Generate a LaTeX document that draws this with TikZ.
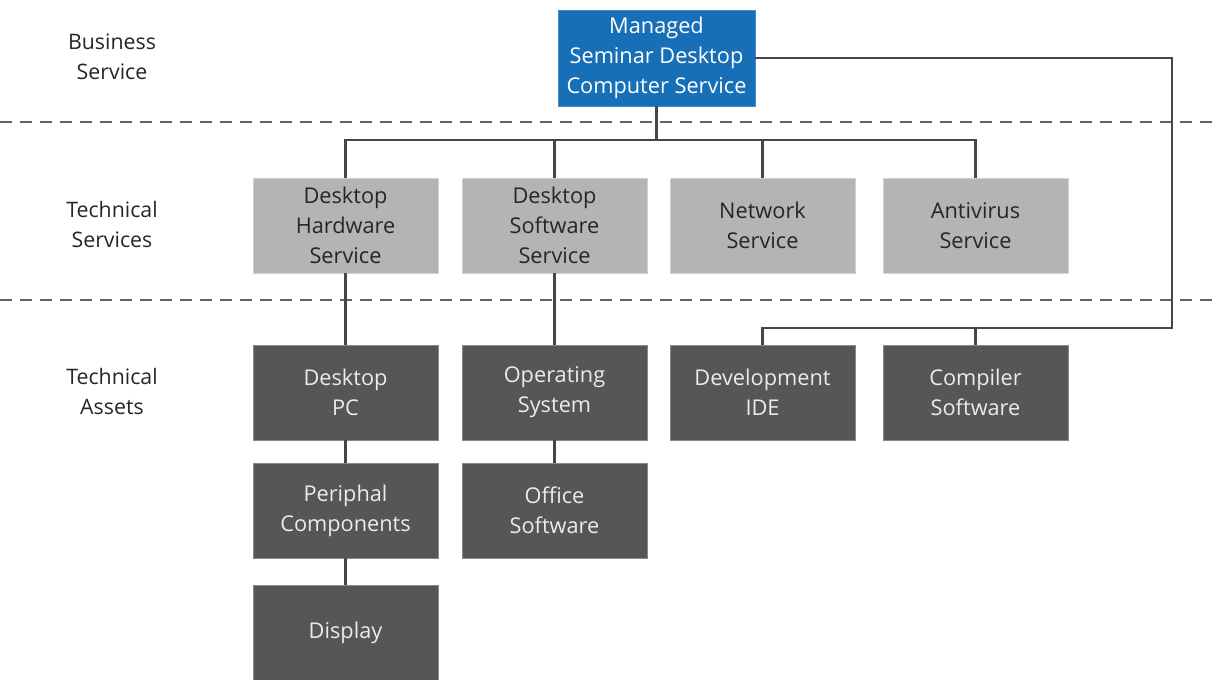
\documentclass[tikz,border=0pt]{standalone}
\usepackage{fontspec}
\setmainfont{Open Sans}
\usetikzlibrary{positioning}
\definecolor{bizblue}{HTML}{1770B7}
\definecolor{svcgray}{HTML}{B4B4B4}
\definecolor{assetgray}{HTML}{565656}
\definecolor{linegray}{HTML}{464646}
\tikzset{box/.style = {rectangle, inner sep = 0, outer sep = 0, minimum width = 138.75pt, minimum height = 71.25pt, align = center,
    font = \fontsize{16.3}{22.5}\selectfont}}
\tikzset{bizbox/.style = {box, fill = bizblue, draw = bizblue!80!white, text = white, minimum width = 147.75pt, minimum height = 72pt}}
\tikzset{svcbox/.style = {box, fill = svcgray, draw = svcgray!60!white, text = black!85}}
\tikzset{assetbox/.style = {box, fill = assetgray, draw = assetgray!70!white, text = black!8}}
\tikzset{level/.style = {align = center, text = black!85, font = \fontsize{16}{22.5}\selectfont}}
\tikzset{link/.style = {draw = linegray, line width = 1.7pt}}
\tikzset{sep/.style = {draw = linegray!85, line width = 2.2pt, dash pattern = on 9pt off 6pt}}

\begin{document}
\begin{tikzpicture}[x = 0.75pt, y = -0.75pt]
      \useasboundingbox (0, 0) rectangle (1218, 680);

      \draw [sep] (0, 122) -- (1218, 122);
      \draw [sep] (0, 300) -- (1218, 300);

      \node [level] (lbiz) at (112, 57) {Business\\Service};
      \node [level] (lsvc) at (112, 225) {Technical\\Services};
      \node [level] (lasset) at (112, 392) {Technical\\Assets};

      \node [bizbox] (mgd) at (656.5, 58) {Managed\\Seminar Desktop\\Computer Service};

      \node [svcbox] (hw) at (345.5, 225.5) {Desktop\\Hardware\\Service};
      \node [svcbox, right=18pt of hw] (sw) {Desktop\\Software\\Service};
      \node [svcbox, right=17.25pt of sw] (net) {Network\\Service};
      \node [svcbox, right=21pt of net] (av) {Antivirus\\Service};

      \node [assetbox] (pc) at (345.5, 392.5) {Desktop\\PC};
      \node [assetbox, below=17.25pt of pc] (peri) {Periphal\\Components};
      \node [assetbox, below=20.25pt of peri] (disp) {Display};

      \node [assetbox] (os) at (554.5, 392.5) {Operating\\System};
      \node [assetbox, below=17.25pt of os] (office) {Office\\Software};

      \node [assetbox] (ide) at (762.5, 392.5) {Development\\IDE};
      \node [assetbox] (comp) at (975.5, 392.5) {Compiler\\Software};

      \coordinate (hub) at (656.5, 140);
      \coordinate (loop) at (1172, 328);

      \draw [link] (mgd) -- (hub);
      \draw [link] (hw.north) |- (hub) -| (av.north);
      \draw [link] (sw.north) -- (sw.north |- hub);
      \draw [link] (net.north) -- (net.north |- hub);

      \draw [link] (mgd.east) -| (loop) -| (ide.north);
      \draw [link] (comp.north) -- (comp.north |- loop);

      \draw [link] (hw) -- (pc);
      \draw [link] (pc) -- (peri);
      \draw [link] (peri) -- (disp);
      \draw [link] (sw) -- (os);
      \draw [link] (os) -- (office);
    \end{tikzpicture}
\end{document}
